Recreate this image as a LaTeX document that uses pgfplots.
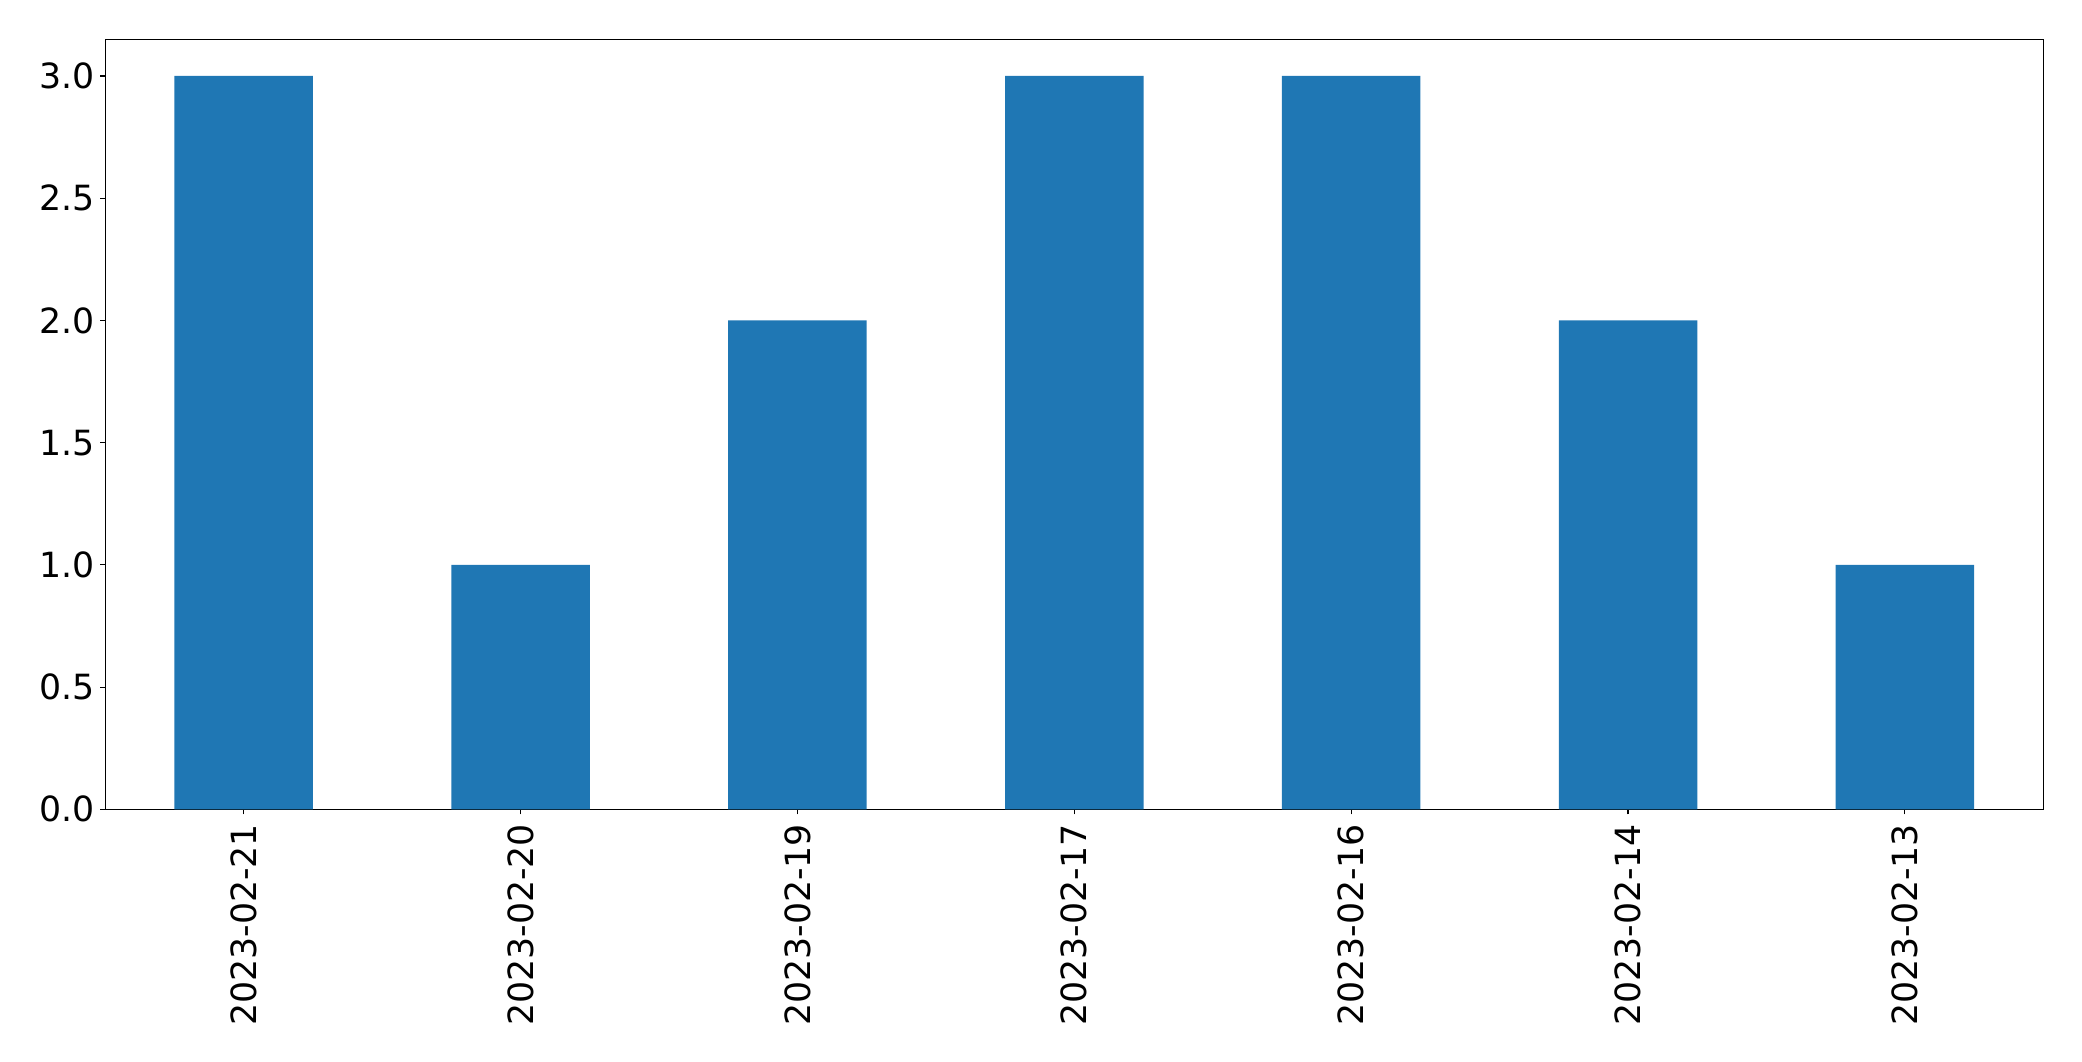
\documentclass[border=0pt]{standalone}
\usepackage{pgfplots}
\pgfplotsset{compat=1.18}
\usepackage{fontspec}
\setmainfont{DejaVu Sans}
\definecolor{mplblue}{HTML}{1F77B4}
\begin{document}
\begin{tikzpicture}
\useasboundingbox (0,0) rectangle (1499.04pt,763.92pt);
\begin{axis}[
  at={(75.8pt,181.2pt)}, anchor=south west,
  width=1395.4pt, height=554.4pt, scale only axis,
  xmin=-0.5, xmax=6.5, ymin=0, ymax=3.15,
  xtick={0,1,2,3,4,5,6},
  xticklabels={2023-02-21,2023-02-20,2023-02-19,2023-02-17,2023-02-16,2023-02-14,2023-02-13},
  ytick={0,0.5,1,1.5,2,2.5,3},
  yticklabels={0.0,0.5,1.0,1.5,2.0,2.5,3.0},
  tick align=outside, major tick length=3.6pt,
  tick style={black, line width=0.8pt},
  axis line style={line width=0.8pt},
  xtick pos=bottom, ytick pos=left,
  /pgf/number format/assume math mode=true,
  ticklabel style={font=\fontsize{25pt}{30pt}\selectfont},
  xticklabel style={rotate=90, anchor=east, inner sep=0pt, xshift=-6.8pt},
  yticklabel style={anchor=east, inner sep=0pt, xshift=-4pt},
]
\addplot[ybar, bar width=0.5, fill=mplblue, draw=none, bar shift=0pt] coordinates {
(0,3) (1,1) (2,2) (3,3) (4,3) (5,2) (6,1)};
\end{axis}
\end{tikzpicture}
\end{document}
